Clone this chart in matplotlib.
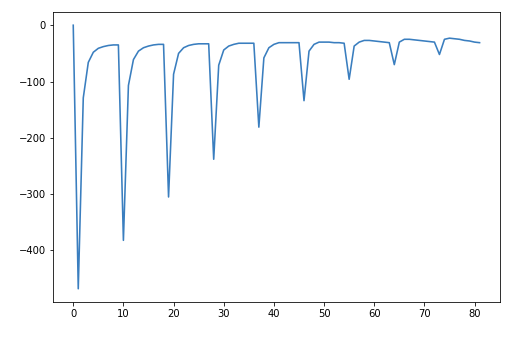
import numpy as np
import matplotlib
matplotlib.use('Agg')
import matplotlib.pyplot as plt

# values, one per step (0..81)
cycle0 = [0, -468, -129, -66, -48, -41, -38, -36, -35, -35]
cycle1 = [-382, -107, -61, -46, -40, -37, -35, -34, -34]
cycle2 = [-305, -87, -50, -40, -36, -34, -33, -33, -33]
cycle3 = [-238, -71, -44, -37, -34, -32, -32, -32, -32]
cycle4 = [-181, -58, -40, -34, -31, -31, -31, -31, -31]
cycle5 = [-134, -46, -34, -30, -30, -30, -31, -31, -32]
cycle6 = [-96, -37, -30, -27, -27, -28, -29, -30, -31]
cycle7 = [-70, -30, -25, -25, -26, -27, -28, -29, -30]
cycle8 = [-52, -25, -23, -24, -25, -27, -28, -30, -31]

values = np.array(cycle0 + cycle1 + cycle2 + cycle3 + cycle4 +
                  cycle5 + cycle6 + cycle7 + cycle8, dtype=float)
steps = np.arange(len(values))

fig = plt.figure(figsize=(524 / 72, 354 / 72), dpi=72)
ax = fig.add_axes([0.101, 0.147, 0.853, 0.819])
ax.plot(steps, values, color='#3a7ebf', linewidth=1.6)
ax.tick_params(labelsize=10)

fig.savefig('out.png', dpi=72)
